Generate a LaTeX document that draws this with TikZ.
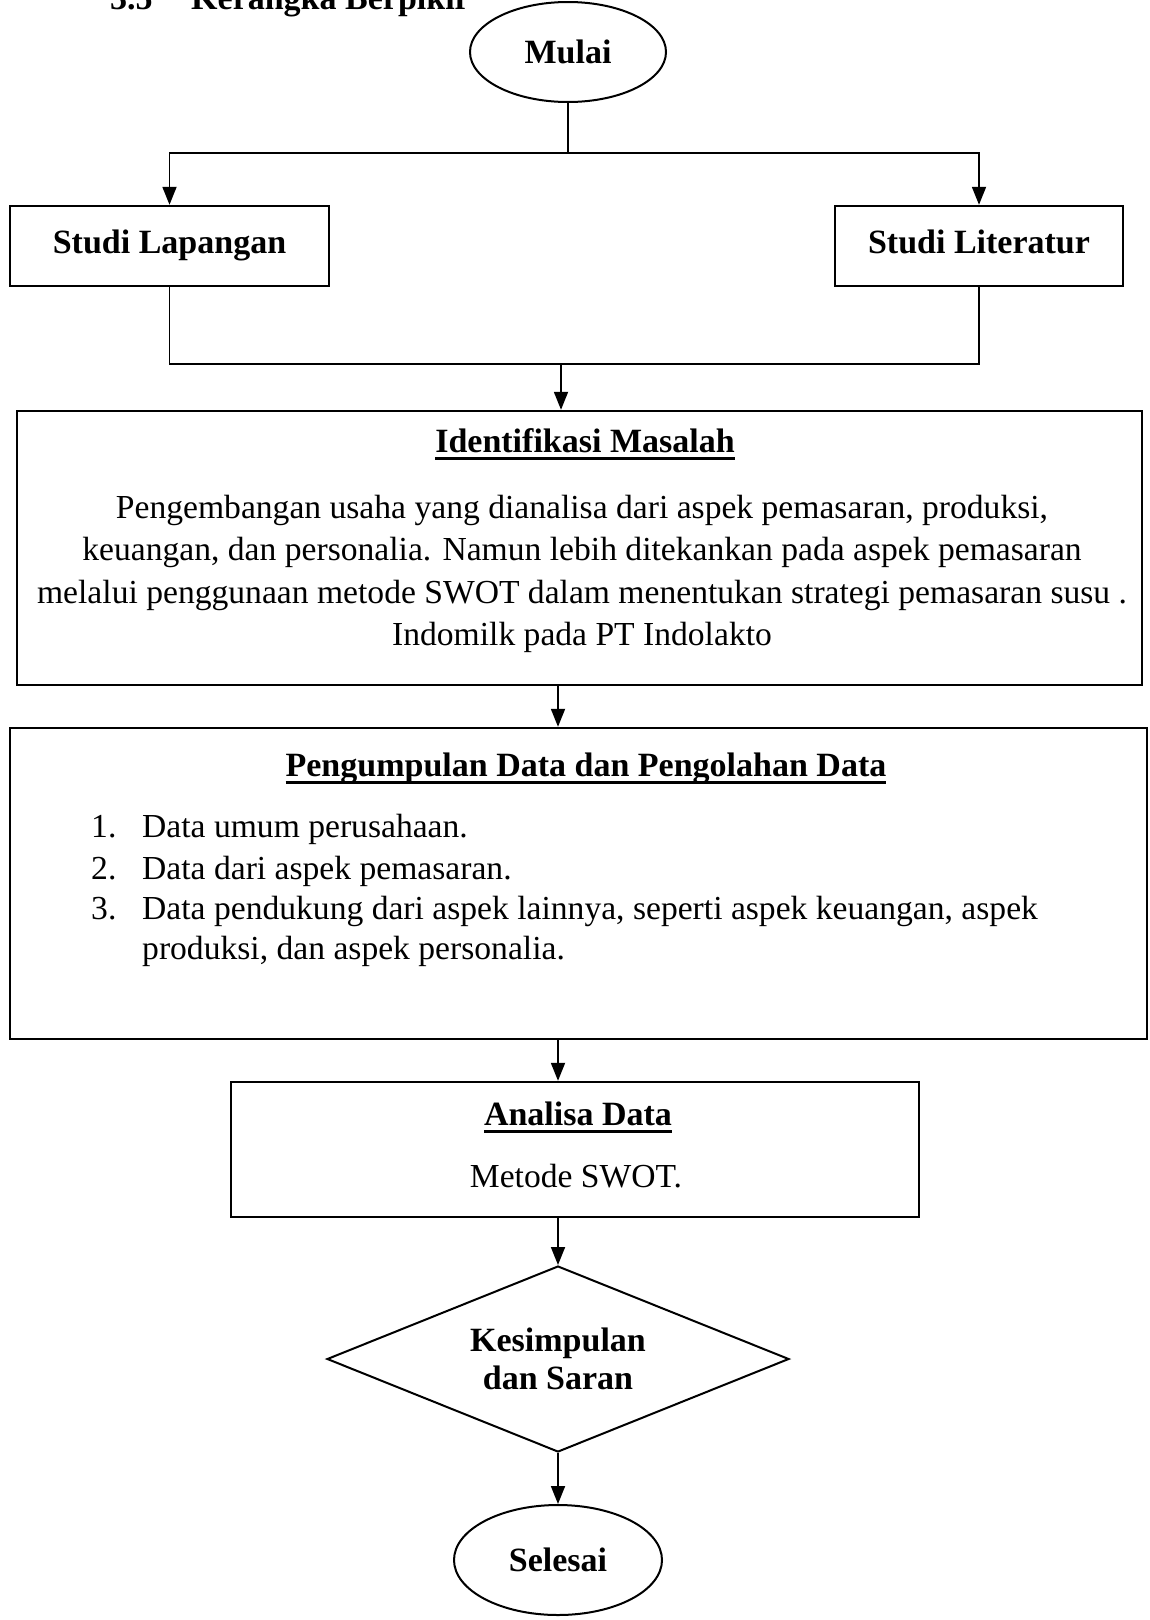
\documentclass[tikz,border=0pt]{standalone}
\usepackage{fontspec}
\setmainfont{Liberation Serif}
\usetikzlibrary{shapes.geometric,arrows.meta}
\newcommand\myul[1]{\setbox0\hbox{#1}\rlap{\rule[-7.5pt]{\wd0}{2.4pt}}\box0}
\begin{document}
\begin{tikzpicture}[x=1pt,y=-1pt,
  box/.style={draw,line width=2.4pt,rectangle,inner sep=0pt},
  oval/.style={draw,line width=2pt,ellipse,inner sep=0pt},
  conn/.style={line width=1.8pt},
  arr/.style={conn,-{Triangle[length=18pt,width=14pt]}},
  hd/.style={font=\fontsize{34}{38}\selectfont\bfseries},
  bd/.style={font=\fontsize{33.6}{42.3}\selectfont},
]
\useasboundingbox (0,0) rectangle (1149,1620);
% title (cut at top edge, as in the reference)
\node[hd,anchor=base west,inner sep=0pt] (num) at (110,9) {3.5};
\node[hd,anchor=base west,inner sep=0pt] (ttl) at (191,9) {Kerangka Berpikir};
% start
\node[oval,minimum width=196pt,minimum height=100pt,hd] (mulai) at (568,52) {Mulai};
\node[box,minimum width=319pt,minimum height=80pt,hd,text height=23pt,text depth=9pt] (lap) at (169.5,246) {Studi Lapangan};
\node[box,minimum width=288pt,minimum height=80pt,hd,text height=23pt,text depth=9pt] (lit) at (979,246) {Studi Literatur};
\coordinate (sp) at (568,153);
\draw[conn] (mulai.south) -- (sp);
\draw[arr] (sp) -| (lap.north);
\draw[arr] (sp) -| (lit.north);
\coordinate (mg) at (561,364);
% identifikasi
\node[box,minimum width=1125pt,minimum height=274pt] (idm) at (579.5,548) {};
\draw[conn] (lap.south) |- (mg);
\draw[conn] (lit.south) |- (mg);
\draw[arr] (mg) -- (mg |- idm.north);
\node[hd,anchor=base] (idmT) at (585,452) {\myul{Identifikasi Masalah}};
\node[bd,align=center,inner sep=0pt] (idmB) at (582,574) {Pengembangan usaha yang dianalisa dari aspek pemasaran, produksi,\\
keuangan, dan personalia. Namun lebih ditekankan pada aspek pemasaran\\
melalui penggunaan metode SWOT dalam menentukan strategi pemasaran susu .\\
Indomilk pada PT Indolakto};
% pengumpulan
\coordinate (col) at (558,0);
\node[box,minimum width=1137pt,minimum height=311pt] (pd) at (578.5,883.5) {};
\draw[arr] (idm.south -| col) -- (pd.north -| col);
\node[hd,anchor=base] (pdT) at (586,776) {\myul{Pengumpulan Data dan Pengolahan Data}};
\node[bd,anchor=base west,inner sep=0pt] (n1) at (91,837) {1.};
\node[bd,anchor=base west,inner sep=0pt] (t1) at (142,837) {Data umum perusahaan.};
\node[bd,anchor=base west,inner sep=0pt] (n2) at (91,879) {2.};
\node[bd,anchor=base west,inner sep=0pt] (t2) at (142,879) {Data dari aspek pemasaran.};
\node[bd,anchor=base west,inner sep=0pt] (n3) at (91,919) {3.};
\node[bd,anchor=base west,inner sep=0pt] (t3) at (142,919) {Data pendukung dari aspek lainnya, seperti aspek keuangan, aspek};
\node[bd,anchor=base west,inner sep=0pt] (t4) at (142,959) {produksi, dan aspek personalia.};
% analisa
\node[box,minimum width=688pt,minimum height=135pt] (ad) at (575,1149.5) {};
\draw[arr] (pd.south -| col) -- (ad.north -| col);
\node[hd,anchor=base] (adT) at (578,1125) {\myul{Analisa Data}};
\node[bd,anchor=base] (adB) at (576,1187) {Metode SWOT.};
% decision
\node[draw,line width=2pt,diamond,aspect=2.5,inner sep=0pt,minimum width=462pt,minimum height=186pt,hd,align=center] (dia) at (558,1359) {Kesimpulan\\dan Saran};
\draw[arr] (ad.south -| col) -- (dia.north);
% end
\node[oval,minimum width=208pt,minimum height=110pt,hd] (sel) at (558,1560) {Selesai};
\draw[arr] (dia.south) -- (sel.north);
\end{tikzpicture}
\end{document}
